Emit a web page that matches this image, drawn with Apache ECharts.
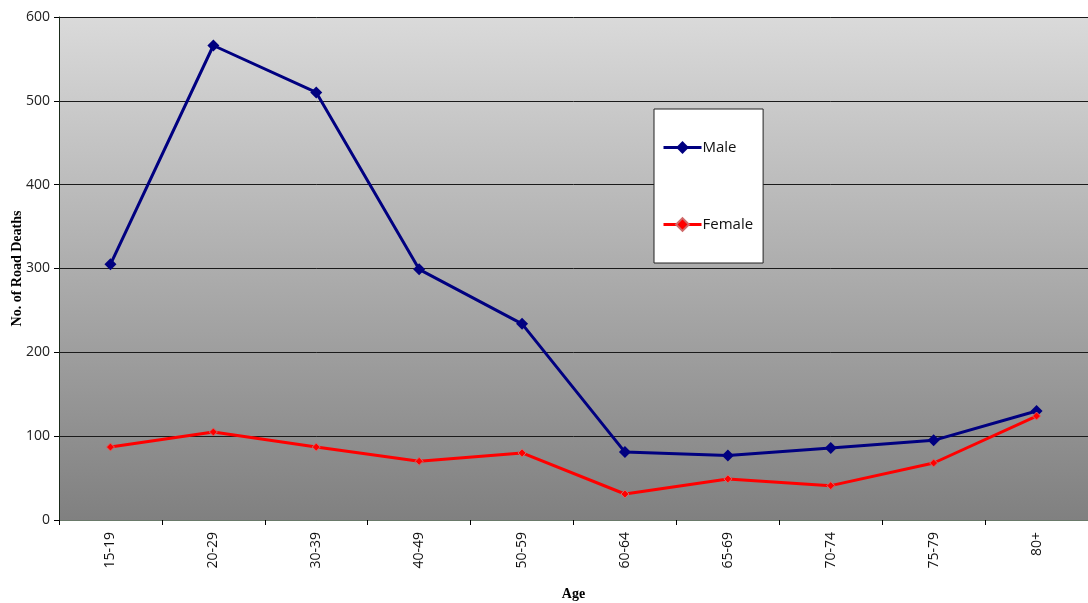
<!DOCTYPE html>
<html>
<head>
<meta charset="utf-8">
<script src="https://cdn.jsdelivr.net/npm/echarts@6/dist/echarts.min.js"></script>
<style>
  html, body { margin: 0; padding: 0; background: #ffffff; }
  #chart { width: 1088px; height: 603px; }
</style>
</head>
<body>
<div id="chart"></div>
<script>
// Road deaths by age group and sex
const ageGroups = ['15-19', '20-29', '30-39', '40-49', '50-59', '60-64', '65-69', '70-74', '75-79', '80+'];
const maleDeaths = [305, 566, 510, 299, 234, 81, 77, 86, 95, 130];
const femaleDeaths = [87, 105, 87, 70, 80, 31, 49, 41, 68, 124];
const yTicks = [0, 100, 200, 300, 400, 500, 600];

const labelFont = '"Open Sans", "DejaVu Sans", sans-serif';
const titleFont = '"Liberation Serif", "Times New Roman", serif';

const chart = echarts.init(document.getElementById('chart'));
chart.setOption({
  animation: false,
  grid: {
    left: 59, right: 0, top: 17, bottom: 83,
    outerBoundsMode: 'none',
    containLabel: false,
    show: true,
    borderWidth: 0,
    backgroundColor: {
      type: 'linear', x: 0, y: 0, x2: 0, y2: 1,
      colorStops: [
        { offset: 0, color: '#dadada' },
        { offset: 1, color: '#808080' }
      ]
    }
  },
  legend: {
    left: 654, top: 109,
    orient: 'vertical',
    backgroundColor: '#ffffff',
    borderColor: '#222222', borderWidth: 1,
    padding: [31, 10, 31, 8],
    itemGap: 62,
    itemWidth: 38, itemHeight: 16,
    lineStyle: { width: 3 },
    textStyle: { fontFamily: labelFont, fontSize: 15, color: '#111111', padding: [0, 0, 0, -4] },
    data: ['Male', 'Female']
  },
  xAxis: {
    type: 'category',
    data: ageGroups,
    boundaryGap: true,
    name: 'Age',
    nameLocation: 'middle',
    nameGap: 67,
    nameMoveOverlap: false,
    nameTextStyle: { fontFamily: titleFont, fontWeight: 'bold', fontSize: 14, color: '#000' },
    axisLine: { lineStyle: { color: '#6a7a6a', width: 1 } },
    axisTick: { show: true, inside: false, length: 5, lineStyle: { color: '#000' } },
    axisLabel: { rotate: 90, margin: 12, fontFamily: labelFont, fontSize: 14, color: '#111' },
    splitLine: { show: false }
  },
  yAxis: {
    type: 'value',
    min: 0, max: 600, interval: 100,
    name: 'No. of Road Deaths',
    nameLocation: 'middle',
    nameGap: 35,
    nameMoveOverlap: false,
    nameRotate: 90,
    nameTextStyle: { fontFamily: titleFont, fontWeight: 'bold', fontSize: 14, color: '#000' },
    axisLine: { show: true, lineStyle: { color: '#1a2a1a', width: 1 } },
    axisTick: { show: true, inside: false, length: 5, lineStyle: { color: '#000' } },
    axisLabel: {
      fontFamily: labelFont, fontSize: 14, color: '#222', margin: 9,
      formatter: v => yTicks.includes(v) ? String(v) : ''
    },
    splitLine: { show: true, lineStyle: { color: '#1a1a1a', width: 1 } }
  },
  series: [
    {
      name: 'Male',
      type: 'line',
      data: maleDeaths,
      symbol: 'diamond',
      symbolSize: 12,
      lineStyle: { color: '#000080', width: 3 },
      itemStyle: { color: '#000080' }
    },
    {
      name: 'Female',
      type: 'line',
      data: femaleDeaths,
      symbol: 'diamond',
      symbolSize: 8,
      lineStyle: { color: '#ff0000', width: 3 },
      itemStyle: { color: '#ff0000', borderColor: '#d06a6a', borderWidth: 1 }
    }
  ],
  graphic: [
    {
      type: 'line',
      shape: { x1: 59, y1: 17.5, x2: 1088, y2: 17.5 },
      style: { stroke: '#a8e8a8', lineWidth: 1 }
    }
  ]
});
</script>
</body>
</html>
